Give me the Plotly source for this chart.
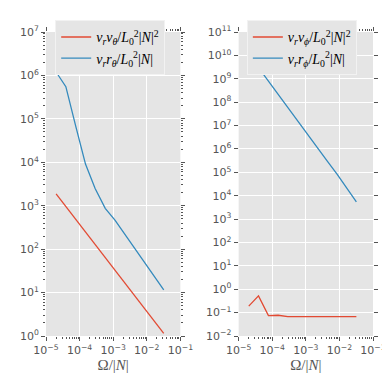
import plotly.graph_objects as go

# frequency grid, Omega/|N|
omega = [2.0e-5, 3.9e-5, 7.7e-5, 1.5e-4, 2.9e-4, 5.8e-4, 1.13e-3, 2.2e-3, 4.3e-3, 8.5e-3, 1.65e-2, 3.2e-2]

# left panel (theta components)
vr_vtheta = [1870, 955, 488, 249, 127, 65, 33, 17, 8.7, 4.4, 2.27, 1.15]
vr_rtheta = [1.2e6, 5.5e5, 6.7e4, 9.1e3, 2.5e3, 870, 465, 223, 107, 51, 24, 11.6]

# right panel (phi components)
vr_vphi = [0.19, 0.52, 0.075, 0.077, 0.068, 0.067, 0.067, 0.067, 0.067, 0.067, 0.067, 0.067]
vr_rphi = [1.1e10, 2.95e9, 7.9e8, 2.1e8, 5.7e7, 1.55e7, 4.2e6, 1.15e6, 3.1e5, 8.3e4, 2.2e4, 5.4e3]

x_exp = [-5, -4, -3, -2, -1]
left_y_exp = [0, 1, 2, 3, 4, 5, 6, 7]
right_y_exp = [-2, -1, 0, 1, 2, 3, 4, 5, 6, 7, 8, 9, 10, 11]

RED = '#E24A33'
BLUE = '#348ABD'
GREY = '#555555'
BG = '#E5E5E5'


def pow_text(e):
    s = str(e).replace('-', '\u2212')
    return '10<sup>' + s + '</sup>'


def minor_vals(exps):
    return [m * 10 ** e for e in exps[:-1] for m in range(2, 10)]


def leg(a, b, p):
    return ('<i>v</i><sub><i>r</i></sub><i>' + a + '</i><sub><i>' + b + '</i></sub>/<i>L</i>'
            '<sub>0</sub><sup>2</sup>|<i>N</i>|' + p)


fig = go.Figure()
fig.add_trace(go.Scatter(x=omega, y=vr_vtheta, mode='lines', line=dict(color=RED, width=1.3),
                         name=leg('v', '\u03b8', '<sup>2</sup>'), xaxis='x', yaxis='y', legend='legend'))
fig.add_trace(go.Scatter(x=omega, y=vr_rtheta, mode='lines', line=dict(color=BLUE, width=1.3),
                         name=leg('r', '\u03b8', ''), xaxis='x', yaxis='y', legend='legend'))
fig.add_trace(go.Scatter(x=omega, y=vr_vphi, mode='lines', line=dict(color=RED, width=1.3),
                         name=leg('v', '\u03d5', '<sup>2</sup>'), xaxis='x2', yaxis='y2', legend='legend2'))
fig.add_trace(go.Scatter(x=omega, y=vr_rphi, mode='lines', line=dict(color=BLUE, width=1.3),
                         name=leg('r', '\u03d5', ''), xaxis='x2', yaxis='y2', legend='legend2'))

tickfont = dict(family='DejaVu Sans', size=11, color=GREY)
common = dict(type='log', showline=False, zeroline=False, gridcolor='white', gridwidth=1,
              ticks='outside', ticklen=4, tickcolor=GREY, mirror='ticks', tickfont=tickfont,
              tickmode='array')

xcommon = dict(common, range=[-5, -1], tickvals=[10 ** e for e in x_exp],
               ticktext=[pow_text(e) for e in x_exp],
               minor=dict(tickmode='array', tickvals=minor_vals(x_exp), ticks='outside',
                          ticklen=2, tickcolor=GREY, showgrid=False),
               title=dict(text='\u03a9/|<i>N</i>|', font=dict(family='Liberation Serif', size=15, color=GREY),
                          standoff=0))

left_dom = 136 / 331
right_start = 195 / 331
leg_y = 1 + 12 / 315

fig.update_layout(
    width=390, height=377,
    margin=dict(l=38, r=21, t=13.5, b=48.5),
    paper_bgcolor='white', plot_bgcolor=BG,
    showlegend=True,
    xaxis=dict(xcommon, domain=[0, left_dom], anchor='y'),
    xaxis2=dict(xcommon, domain=[right_start, 1], anchor='y2'),
    yaxis=dict(common, range=[0, 7], tickvals=[10 ** e for e in left_y_exp],
               ticktext=[pow_text(e) for e in left_y_exp], anchor='x',
               minor=dict(tickmode='array', tickvals=minor_vals(left_y_exp), ticks='outside',
                          ticklen=2, tickcolor=GREY, showgrid=False)),
    yaxis2=dict(common, range=[-2, 11], tickvals=[10.0 ** e for e in right_y_exp],
                ticktext=[pow_text(e) for e in right_y_exp], anchor='x2'),
    legend=dict(x=9.3 / 331, y=leg_y, xanchor='left', yanchor='top',
                bgcolor=BG, bordercolor='#F2F2F2', borderwidth=1,
                font=dict(family='Liberation Serif', size=14, color='black')),
    legend2=dict(x=203.3 / 331, y=leg_y, xanchor='left', yanchor='top',
                 bgcolor=BG, bordercolor='#F2F2F2', borderwidth=1,
                 font=dict(family='Liberation Serif', size=14, color='black')),
)

fig.write_html('out.html')
